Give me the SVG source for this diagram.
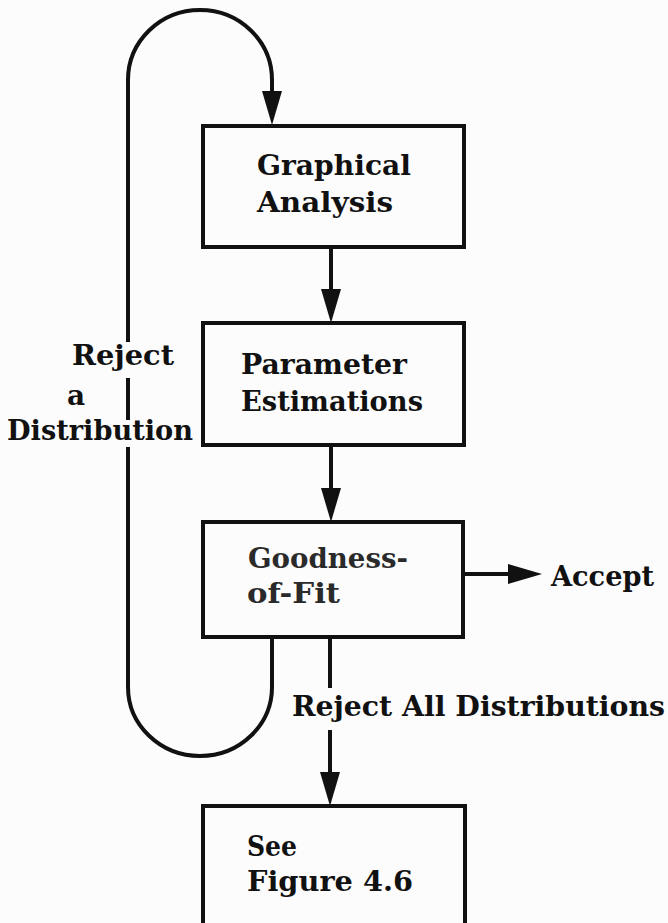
<svg xmlns="http://www.w3.org/2000/svg" width="668" height="923" viewBox="0 0 668 923">
<style>
.box{fill:none;stroke:#111;stroke-width:4}
.ln{fill:none;stroke:#111;stroke-width:4}
.t{font-family:"DejaVu Serif","Liberation Serif",serif;font-weight:bold;font-size:28px;fill:#111}
.soft{fill:#2a2a2a}
</style>
<defs>
<marker id="ah" viewBox="0 0 34 20" refX="24" refY="10" markerWidth="34" markerHeight="20" markerUnits="userSpaceOnUse" orient="auto">
<path d="M0,0 L34,10 L0,20 Z" fill="#111"/>
</marker>
</defs>
<rect x="0" y="0" width="668" height="923" fill="#fcfcfc"/>
<g id="connectors">
<line class="ln" x1="331" y1="247" x2="331" y2="313" marker-end="url(#ah)"/>
<line class="ln" x1="331" y1="445" x2="331" y2="512" marker-end="url(#ah)"/>
<line class="ln" x1="463" y1="574" x2="532" y2="574" marker-end="url(#ah)"/>
<line class="ln" x1="330" y1="637" x2="330" y2="688"/>
<line class="ln" x1="330" y1="730" x2="330" y2="796" marker-end="url(#ah)"/>
<path class="ln" d="M272,637 L272,687 A72,69 0 0 1 128,687 L128,447"/>
<line class="ln" x1="128" y1="420" x2="128" y2="378"/>
<path class="ln" d="M128,342 L128,80 A72,70 0 0 1 272,80 L272,115" marker-end="url(#ah)"/>
<text class="t" x="72" y="365" textLength="102" lengthAdjust="spacingAndGlyphs">Reject</text>
<text class="t" x="67" y="405">a</text>
<text class="t" x="7" y="440" textLength="186" lengthAdjust="spacingAndGlyphs">Distribution</text>
<text class="t" x="551" y="586" textLength="103" lengthAdjust="spacingAndGlyphs">Accept</text>
<text class="t" x="292" y="716" textLength="373" lengthAdjust="spacingAndGlyphs">Reject All Distributions</text>
</g>
<g id="graphical">
<rect class="box" x="203" y="126" width="261" height="121"/>
<text class="t" x="257" y="175" textLength="154" lengthAdjust="spacingAndGlyphs">Graphical</text>
<text class="t" x="257" y="212" textLength="136" lengthAdjust="spacingAndGlyphs">Analysis</text>
</g>
<g id="parameter">
<rect class="box" x="203" y="323" width="261" height="122"/>
<text class="t" x="241" y="374" textLength="166" lengthAdjust="spacingAndGlyphs">Parameter</text>
<text class="t" x="241" y="411" textLength="182" lengthAdjust="spacingAndGlyphs">Estimations</text>
</g>
<g id="goodness">
<rect class="box" x="203" y="522" width="260" height="115"/>
<text class="t soft" x="248" y="568" textLength="160" lengthAdjust="spacingAndGlyphs">Goodness-</text>
<text class="t soft" x="247" y="603" textLength="93" lengthAdjust="spacingAndGlyphs">of-Fit</text>
</g>
<g id="see">
<rect class="box" x="203" y="806" width="262" height="140"/>
<text class="t" x="247" y="856" textLength="50" lengthAdjust="spacingAndGlyphs">See</text>
<text class="t" x="247" y="891" textLength="166" lengthAdjust="spacingAndGlyphs">Figure 4.6</text>
</g>
</svg>
